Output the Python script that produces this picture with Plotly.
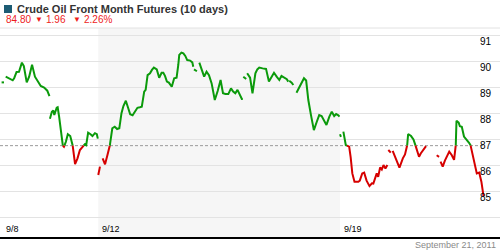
import plotly.graph_objects as go

# ---------------- data ----------------
title_text = "Crude Oil Front Month Futures (10 days)"
last_price = "84.80"
change_abs = "1.96"
change_pct = "2.26%"
prev_close = 86.76
as_of = "September 21, 2011"

# trading-day offsets (0 = 9/8 open); None marks a gap in the data
t = [0.00, 0.05, None,
     0.085, 0.16, 0.23, 0.26, 0.31, 0.36, 0.42, 0.46, 0.52, 0.57, 0.63, 0.69, 0.76, 0.81, 0.88, 0.945, 0.99, None,
     1.00, 1.04, 1.07, 1.09, 1.14, 1.16, 1.19, 1.25, 1.29, 1.33, 1.37, 1.42, 1.47, 1.52, 1.57, 1.62, 1.68, 1.72,
     1.75, 1.79, 1.84, 1.88, 1.93, 1.97, 1.99, None,
     2.00, 2.035, None,
     2.09, 2.14, 2.19, 2.24, 2.29, 2.34, 2.39, 2.435, 2.48, 2.52, 2.57, 2.62, 2.66, 2.71, 2.76, 2.81, 2.86, 2.90,
     2.95, 2.98, 3.02, 3.07, 3.11, 3.15, 3.21, 3.26, 3.31, 3.345, 3.38, 3.42, 3.46, 3.52, 3.57, 3.62, 3.655, 3.675,
     3.72, 3.76, 3.80, 3.84, 3.90, 3.945, 3.965, None,
     3.98, 4.04, None,
     4.09, 4.14, 4.19, 4.24, 4.29, 4.345, 4.41, 4.47, 4.53, 4.58, 4.63, 4.69, 4.745, 4.79, 4.835, 4.88, 4.93, 4.97,
     4.99, None,
     5.00, 5.06, None,
     5.08, 5.14, 5.19, 5.25, 5.29, 5.33, 5.40, 5.47, 5.53, 5.58, 5.635, 5.69, 5.745, 5.79, 5.85, 5.90, 5.93, None,
     5.95, 6.00, 6.035, None,
     6.10, 6.15, 6.21, 6.255, 6.30, 6.345, 6.40, 6.46, 6.52, 6.57, 6.62, 6.67, 6.72, 6.78, 6.83, 6.88, 6.92, 6.965,
     6.99, None,
     7.00, 7.02, None,
     7.07, 7.12, 7.19, 7.22, 7.255, 7.30, 7.38, 7.41, 7.46, 7.50, 7.55, 7.61, 7.66, 7.69, 7.725, 7.76, 7.79, 7.83,
     7.865, 7.90, 7.94, 7.98, None,
     8.00, 8.05, None,
     8.09, 8.16, 8.23, 8.30, 8.345, 8.39, 8.41, 8.47, 8.52, 8.56, 8.60, 8.635, 8.67, 8.72, 8.78, None,
     9.00, 9.05, None,
     9.08, 9.125, 9.17, 9.26, 9.31, 9.36, 9.395, 9.41, 9.455, 9.48, 9.52, 9.565, 9.62, 9.67, 9.70, 9.745, 9.78,
     9.83, 9.88, 9.925, 9.97]

price = [89.20, 89.20, None,
         89.42, 89.33, 89.28, 89.36, 89.60, 89.61, 89.96, 89.83, 89.20, 89.42, 89.88, 89.42, 89.19, 89.06, 89.00, 88.88, 88.67, None,
         87.80, 88.07, 88.12, 87.94, 88.22, 88.24, 87.88, 86.79, 86.72, 86.91, 87.20, 87.13, 86.77, 86.05, 86.27, 86.59, 86.72, 86.81,
         86.78, 87.26, 87.20, 87.13, 87.24, 87.20, 87.03, None,
         85.63, 85.95, None,
         86.27, 86.04, 86.40, 86.78, 87.43, 87.49, 87.40, 87.43, 88.01, 88.29, 88.49, 88.20, 87.97, 87.93, 88.07, 88.22, 88.24, 88.26,
         88.84, 88.91, 89.48, 89.55, 89.68, 89.77, 89.70, 89.38, 89.57, 89.57, 89.45, 89.23, 89.19, 89.03, 89.36, 89.38, 89.87, 90.26,
         90.35, 90.32, 90.22, 90.06, 90.04, 89.97, 89.80, None,
         89.70, 89.63, None,
         89.96, 89.70, 89.42, 89.61, 89.48, 89.16, 88.52, 88.87, 89.29, 88.78, 88.75, 88.75, 88.97, 88.85, 88.78, 88.91, 88.71, 88.56,
         88.56, None,
         89.42, 89.33, None,
         89.55, 89.38, 88.78, 89.55, 89.70, 89.77, 89.74, 89.72, 89.23, 89.42, 89.57, 89.42, 89.29, 89.45, 89.36, 89.32, 89.23, None,
         89.26, 89.19, 89.10, None,
         88.80, 88.97, 89.16, 89.36, 89.27, 88.52, 87.94, 87.36, 87.68, 87.94, 87.90, 87.72, 87.56, 87.88, 88.07, 87.90, 87.98, 87.93,
         87.88, None,
         87.20, 87.10, None,
         87.30, 86.78, 86.72, 86.33, 85.69, 85.37, 85.37, 85.41, 85.69, 85.72, 85.41, 85.20, 85.31, 85.30, 85.54, 85.69, 85.56, 85.92,
         85.84, 86.01, 85.88, 86.01, None,
         86.59, 86.49, None,
         86.56, 86.27, 85.91, 86.27, 86.42, 86.78, 87.21, 87.13, 87.00, 86.78, 86.52, 86.33, 86.46, 86.59, 86.74, None,
         86.39, 86.33, None,
         86.14, 85.95, 86.18, 86.53, 86.40, 86.21, 86.78, 87.72, 87.65, 87.51, 87.49, 87.11, 87.00, 86.87, 86.78, 86.40, 86.01,
         85.69, 85.72, 85.37, 84.80]

day_ticks = [0, 2, 7]
day_labels = ["9/8", "9/12", "9/19"]
shaded_weeks = [(2, 7)]
y_ticks = [84, 85, 86, 87, 88, 89, 90, 91]
y_labels = ["", "85", "86", "87", "88", "89", "90", "91"]

# ---------------- styling ----------------
W, H = 500, 250
MT, MB = 28, 13
FONT = "Liberation Sans, Arial, sans-serif"
GREEN = "#0b9a0b"
RED = "#d60000"


def py(p):
    """pixel row -> paper y"""
    return (H - MB - p) / (H - MT - MB)


def px(p):
    return p / W


def split_by_base(xs, ys, base):
    out = {"up": ([], []), "dn": ([], [])}
    prev = None
    cur = None
    for x, y in zip(xs, ys):
        if y is None:
            if cur:
                out[cur][0].append(None)
                out[cur][1].append(None)
            prev, cur = None, None
            continue
        side = "up" if y >= base else "dn"
        if prev is None:
            cur = side
        elif side != cur:
            x0, y0 = prev
            xc = x0 + (base - y0) * (x - x0) / (y - y0)
            out[cur][0].extend([xc, None])
            out[cur][1].extend([base, None])
            out[side][0].append(xc)
            out[side][1].append(base)
            cur = side
        out[side][0].append(x)
        out[side][1].append(y)
        prev = (x, y)
    return out


parts = split_by_base(t, price, prev_close)

fig = go.Figure()
fig.add_trace(go.Scatter(x=parts["up"][0], y=parts["up"][1], mode="lines",
                         line=dict(color=GREEN, width=2), connectgaps=False,
                         hoverinfo="skip", showlegend=False))
fig.add_trace(go.Scatter(x=parts["dn"][0], y=parts["dn"][1], mode="lines",
                         line=dict(color=RED, width=2), connectgaps=False,
                         hoverinfo="skip", showlegend=False))

x_lo, x_hi = -0.033, 10.31

shapes = []
for a, b in shaded_weeks:
    shapes.append(dict(type="rect", xref="x", yref="paper", x0=a, x1=b, y0=0, y1=1,
                       fillcolor="#f6f6f6", line=dict(width=0), layer="below"))
shapes.append(dict(type="line", xref="x", yref="y", x0=x_lo, x1=10.0, y0=prev_close, y1=prev_close,
                   line=dict(color="#9a9a9a", width=1, dash="3px,2px"), layer="below"))
shapes.append(dict(type="line", xref="paper", yref="paper", x0=0, x1=1, y0=1, y1=1,
                   line=dict(color="#e2e2e2", width=1)))
# title marker
shapes.append(dict(type="rect", xref="paper", yref="paper", x0=px(4), x1=px(12), y0=py(13), y1=py(5),
                   fillcolor="#1d5c74", line=dict(width=0)))

annotations = []
annotations.append(dict(text="<b>" + title_text + "</b>", xref="paper", yref="paper",
                        x=px(15), y=py(9.5), xanchor="left", yanchor="middle", showarrow=False,
                        font=dict(family=FONT, size=11, color="#333333")))
red_items = [(last_price, 4, 10), ("\u25BC", 33, 8), (change_abs, 44, 10), ("\u25BC", 71, 8), (change_pct, 82, 10)]
for txt, xp, sz in red_items:
    annotations.append(dict(text=txt, xref="paper", yref="paper", x=px(xp), y=py(19.5),
                            xanchor="left", yanchor="middle", showarrow=False,
                            font=dict(family=FONT, size=sz, color="#ee1c1c")))
for d, lab in zip(day_ticks, day_labels):
    annotations.append(dict(text=lab, xref="x", yref="paper", x=d, y=0, xanchor="left", yanchor="bottom",
                            xshift=2, yshift=1, showarrow=False,
                            font=dict(family=FONT, size=9, color="#000000")))
annotations.append(dict(text=as_of, xref="paper", yref="paper", x=1, y=0, xanchor="right", yanchor="top",
                        xshift=-2, yshift=-1, showarrow=False,
                        font=dict(family=FONT, size=9, color="#8a8a8a")))

fig.update_layout(
    width=W, height=H,
    margin=dict(l=0, r=0, t=MT, b=MB, pad=0),
    paper_bgcolor="white", plot_bgcolor="white",
    showlegend=False,
    shapes=shapes, annotations=annotations,
    xaxis=dict(range=[x_lo, x_hi], showgrid=False, zeroline=False, showticklabels=False,
               ticks="", showline=True, linecolor="#000000", linewidth=2, fixedrange=True),
    yaxis=dict(range=[83.237, 91.297], side="right", tickvals=y_ticks, ticktext=y_labels,
               ticklabelposition="inside", ticklabelstandoff=6, ticklabelshift=6,
               ticks="", showgrid=True, gridcolor="#e3e3e3", gridwidth=1, zeroline=False,
               showline=False, tickfont=dict(family=FONT, size=10, color="#000000"), fixedrange=True),
)

fig.write_html("out.html")
